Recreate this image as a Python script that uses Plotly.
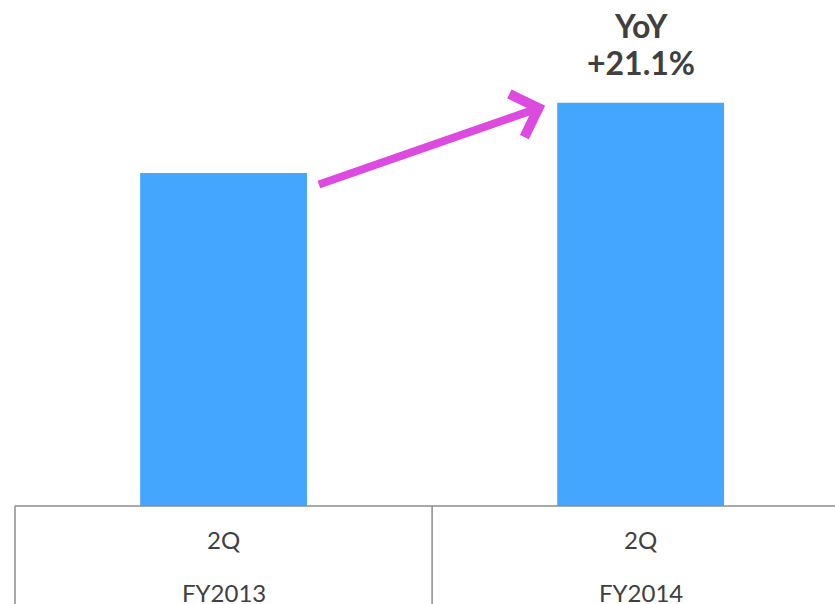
import plotly.graph_objects as go

categories = ["2Q FY2013", "2Q FY2014"]
quarter_labels = ["2Q", "2Q"]
year_labels = ["FY2013", "FY2014"]
values = [100.0, 121.1]
yoy_lines = ["YoY", "+21.1%"]

BAR = "#45A6FF"
ARROW = "#DC4ADF"
TXT = "#404040"
LINE = "#8C8C8C"
FONT = "Lato, 'Noto Sans', sans-serif"

xidx = list(range(len(categories)))
xmin, xmax = -0.5, 1.466
PH = 506  # plot area height in px
ymax = 151.95

fig = go.Figure(go.Bar(x=xidx, y=values, width=0.40, marker=dict(color=BAR, line=dict(width=0)),
                       hoverinfo="skip"))

def xp(v):
    return (v - xmin) / (xmax - xmin)

shapes = [
    dict(type="line", xref="paper", yref="paper", x0=0, x1=1.02, y0=0, y1=0, line=dict(color=LINE, width=1.5)),
    dict(type="line", xref="paper", yref="paper", x0=0, x1=0, y0=0, y1=-100 / PH, line=dict(color=LINE, width=1.5)),
    dict(type="line", xref="paper", yref="paper", x0=xp(0.5), x1=xp(0.5), y0=0, y1=-100 / PH,
         line=dict(color=LINE, width=1.5)),
]

ann = []
for i in xidx:
    ann.append(dict(x=i, y=-33 / PH, xref="x", yref="paper", text=quarter_labels[i], showarrow=False,
                    font=dict(family=FONT, size=24, color=TXT), yanchor="middle"))
    ann.append(dict(x=i, y=-86 / PH, xref="x", yref="paper", text=year_labels[i], showarrow=False,
                    font=dict(family=FONT, size=24, color=TXT), yanchor="middle"))

ann.append(dict(x=1, y=values[1], xref="x", yref="y", text=yoy_lines[1], showarrow=False, yanchor="middle",
                yshift=40, font=dict(family=FONT, size=32, color=TXT, weight="bold")))
ann.append(dict(x=1, y=values[1], xref="x", yref="y", text=yoy_lines[0], showarrow=False, yanchor="middle",
                yshift=77, font=dict(family=FONT, size=32, color=TXT, weight="bold")))

ann.append(dict(x=0.771, y=120.2, xref="x", yref="y", ax=0.225, ay=96.4, axref="x", ayref="y",
                text="", showarrow=True, arrowhead=4, arrowsize=1.1, arrowwidth=8, arrowcolor=ARROW,
                standoff=0, startstandoff=0))

fig.update_layout(
    width=835, height=604,
    margin=dict(l=15, r=0, t=0, b=98),
    paper_bgcolor="white", plot_bgcolor="white",
    showlegend=False,
    hovermode=False,
    xaxis=dict(range=[xmin, xmax], showticklabels=False, showgrid=False, zeroline=False, showline=False, ticks=""),
    yaxis=dict(range=[0, ymax], visible=False, showgrid=False, zeroline=False),
    shapes=shapes, annotations=ann,
)

fig.write_html("out.html", config={"displayModeBar": False},
               post_script="document.body.style.margin='0';document.body.style.overflow='hidden';")
